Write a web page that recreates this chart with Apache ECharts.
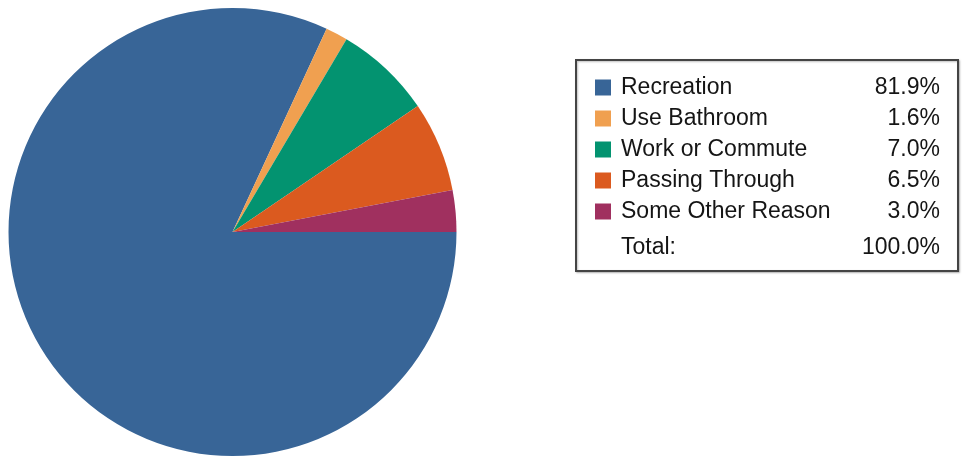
<!DOCTYPE html>
<html><head><meta charset="utf-8">
<script src="https://cdn.jsdelivr.net/npm/echarts@6/dist/echarts.min.js"></script>
<style>html,body{margin:0;padding:0;background:#fff}#c{width:967px;height:464px}</style>
</head><body><div id="c"></div>
<script>
const categories = ['Recreation', 'Use Bathroom', 'Work or Commute', 'Passing Through', 'Some Other Reason'];
const values = [81.9, 1.6, 7.0, 6.5, 3.0];
const colors = ['#386597', '#F0A050', '#039370', '#DB5A1F', '#A0305F'];
const totalLabel = 'Total:';

const total = values.reduce((a, b) => a + b, 0);
const pct = {};
categories.forEach((c, i) => pct[c] = values[i].toFixed(1) + '%');
const FONT = 'Liberation Sans, Arial, sans-serif';
const FS = 23;

const chart = echarts.init(document.getElementById('c'));
chart.setOption({
  animation: false,
  color: colors,
  legend: {
    orient: 'vertical',
    left: 576, top: 60,
    padding: [12, 18, 44, 19],
    borderColor: '#444', borderWidth: 2,
    shadowColor: 'rgba(0,0,0,0.25)', shadowBlur: 2, shadowOffsetX: 1, shadowOffsetY: 1,
    backgroundColor: '#fff',
    icon: 'rect', itemWidth: 16, itemHeight: 16, itemGap: 0,
    selectedMode: false,
    data: categories,
    formatter: name => '{n|' + name + '}{p|' + pct[name] + '}',
    textStyle: {
      fontFamily: FONT, fontSize: FS, color: '#151515', lineHeight: 31,
      rich: {
        n: { fontFamily: FONT, fontSize: FS, color: '#151515', width: 228, padding: [0, 0, 0, 5], lineHeight: 31 },
        p: { fontFamily: FONT, fontSize: FS, color: '#151515', width: 91, align: 'right', lineHeight: 31 }
      }
    }
  },
  graphic: [
    { type: 'text', z: 100, left: 621, top: 236, style: { text: totalLabel, font: FS + 'px ' + FONT, fill: '#151515' } },
    { type: 'text', z: 100, right: 967 - 940, top: 236, style: { text: total.toFixed(1) + '%', font: FS + 'px ' + FONT, fill: '#151515', align: 'right' } }
  ],
  series: [{
    type: 'pie',
    center: [232.5, 232],
    radius: 224,
    startAngle: 0,
    clockwise: true,
    label: { show: false },
    labelLine: { show: false },
    emphasis: { disabled: true },
    itemStyle: { borderWidth: 0 },
    data: categories.map((c, i) => ({ name: c, value: values[i] }))
  }]
});
</script></body></html>
